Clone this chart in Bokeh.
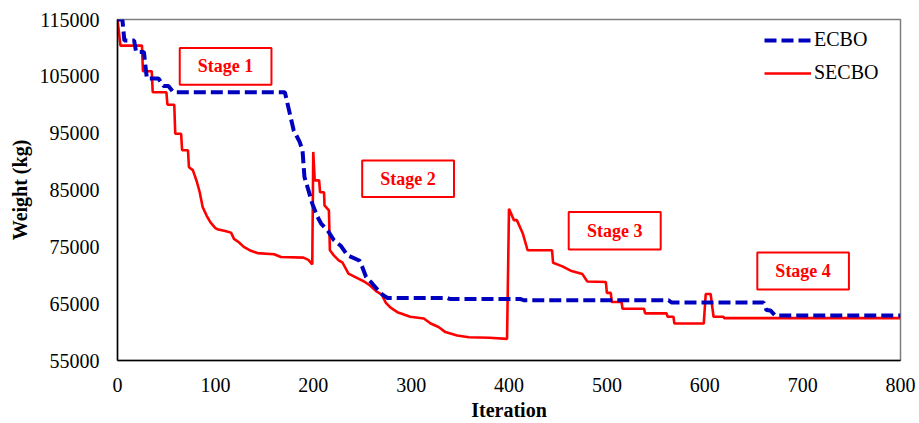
from bokeh.plotting import figure
from bokeh.models import (Range1d, FixedTicker, Legend, LegendItem, BoxAnnotation, Label,
                          BasicTickFormatter)
from bokeh.embed import file_html
from bokeh.resources import INLINE

# ---------------- data ----------------
ecbo_iter = [0, 5, 7, 17, 19, 27, 30, 42, 47, 52, 57, 171, 180, 186, 189, 191, 195, 199,
             204, 208, 215, 221, 228, 235, 247, 250, 254, 260, 266, 270, 274, 276, 337,
             340, 412, 415, 563, 566, 660, 663, 667, 672, 800]
ecbo_weight = [115000, 115000, 111300, 111300, 109300, 109300, 104600, 104600, 103300,
               103300, 102200, 102200, 95500, 93500, 92000, 87300, 85000, 82600, 80400,
               79100, 77800, 76200, 75200, 73500, 72600, 71500, 69700, 68600, 67400,
               66700, 66200, 66000, 66000, 65800, 65800, 65600, 65600, 65200, 65200,
               63900, 63800, 62900, 62900]

secbo_iter = [0, 3, 25, 26, 35, 36, 50, 51, 58, 59, 65, 66, 72, 73, 77, 81, 84, 87, 91, 95,
              100, 102, 110, 116, 119, 124, 129, 135, 143, 160, 167, 190, 195, 199, 200,
              201.5, 206, 207, 211, 211.5, 216, 217, 221, 226, 230, 236, 246, 252, 258,
              265, 270, 274, 279, 286, 294, 299, 313, 320, 328, 335, 347, 359, 380, 398,
              400, 405, 408, 414, 419, 444, 445, 454, 463, 475, 480, 499, 500, 504, 505,
              515, 516, 538, 539, 561, 562, 568, 569, 599, 601, 606, 609, 619, 620, 800]
secbo_weight = [115000, 110400, 110400, 105900, 105900, 102200, 102200, 100000, 100000,
                94900, 94900, 92000, 92000, 89000, 88500, 86500, 84600, 82000, 80500,
                79300, 78300, 78100, 77800, 77500, 76400, 75800, 75000, 74400, 73900,
                73700, 73200, 73100, 72700, 71900, 91700, 86700, 86700, 84600, 84600,
                82300, 81400, 74400, 73500, 72600, 72200, 70300, 69400, 68900, 68200,
                67100, 66600, 65200, 64300, 63500, 63000, 62700, 62400, 61500, 60900,
                60000, 59400, 59100, 59000, 58800, 81700, 79700, 79700, 77400, 74400,
                74400, 72200, 71600, 70800, 70200, 68900, 68800, 66900, 66900, 65300,
                65300, 64100, 64100, 63300, 63300, 62700, 62700, 61500, 61500, 66700,
                66700, 62700, 62700, 62450, 62450]

x_ticks = [0, 100, 200, 300, 400, 500, 600, 700, 800]
y_ticks = [55000, 65000, 75000, 85000, 95000, 105000, 115000]

stage_names = ["Stage 1", "Stage 2", "Stage 3", "Stage 4"]

# ---------------- figure ----------------
FONT = "Liberation Serif"

p = figure(width=919, height=423, x_range=Range1d(0, 800), y_range=Range1d(55000, 115000),
           output_backend="svg", toolbar_location=None,
           min_border_left=117, min_border_right=19, min_border_top=19, min_border_bottom=63)

p.xgrid.visible = False
p.ygrid.visible = False
p.outline_line_color = "#7f7f7f"
p.outline_line_width = 1.5
p.background_fill_color = "white"
p.border_fill_color = "white"

for ax in (p.xaxis[0], p.yaxis[0]):
    ax.major_tick_line_color = None
    ax.minor_tick_line_color = None
    ax.major_tick_out = 0
    ax.major_tick_in = 0
    ax.axis_line_color = "black"
    ax.axis_line_width = 1.5
    ax.major_label_text_font = FONT
    ax.major_label_text_font_size = "20px"
    ax.major_label_text_color = "black"
    ax.axis_label_text_font = FONT
    ax.axis_label_text_font_size = "20px"
    ax.axis_label_text_font_style = "bold"
    ax.axis_label_text_color = "black"

p.xaxis.ticker = FixedTicker(ticks=x_ticks)
p.yaxis.ticker = FixedTicker(ticks=y_ticks)
p.yaxis.formatter = BasicTickFormatter(use_scientific=False)
p.xaxis.major_label_standoff = 17
p.yaxis.major_label_standoff = 18
p.xaxis.axis_label = "Iteration"
p.yaxis.axis_label = "Weight (kg)"
p.xaxis.axis_label_standoff = 4
p.yaxis.axis_label_standoff = 6

r_secbo = p.line(secbo_iter, secbo_weight, line_color="#ff0000", line_width=2.6)
r_ecbo = p.line(ecbo_iter, ecbo_weight, line_color="#0000bf", line_width=4,
                line_dash="12 5")

# stage boxes (annotation positions in data units)
boxes = [(63.6, 157.3, 103500, 110000),
         (250, 343.8, 83760, 90210),
         (461, 555, 74510, 81120),
         (653.7, 747.3, 67480, 73990)]
for name, (l, r, b, t) in zip(stage_names, boxes):
    p.add_layout(BoxAnnotation(left=l, right=r, bottom=b, top=t, fill_alpha=0,
                               fill_color=None, line_color="#ff0000", line_alpha=1,
                               line_width=2))
    p.add_layout(Label(x=(l + r) / 2, y=(b + t) / 2, text=name, text_align="center",
                       text_baseline="middle", text_font=FONT, text_font_size="18px",
                       text_font_style="bold", text_color="#ff0000"))

legend = Legend(items=[LegendItem(label="ECBO", renderers=[r_ecbo]),
                       LegendItem(label="SECBO", renderers=[r_secbo])],
                location=(647, 276))
legend.label_text_font = FONT
legend.label_text_font_size = "20px"
legend.label_text_color = "black"
legend.glyph_width = 47
legend.glyph_height = 20
legend.label_height = 20
legend.label_standoff = 3
legend.spacing = 10
legend.padding = 0
legend.margin = 0
legend.border_line_color = None
legend.background_fill_alpha = 0
p.add_layout(legend)

open("out.html", "w").write(file_html(p, INLINE))
